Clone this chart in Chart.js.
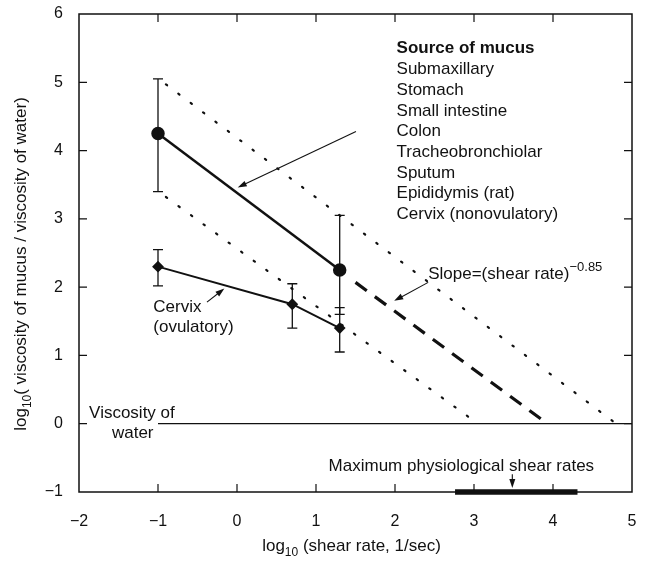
<!DOCTYPE html>
<html><head><meta charset="utf-8">
<script src="https://cdn.jsdelivr.net/npm/chart.js@4"></script>
<style>html,body{margin:0;padding:0;background:#fff}</style>
</head><body>
<canvas id="c" width="645" height="569"></canvas>
<script>
// ---- data ----
const xTicks = [-2, -1, 0, 1, 2, 3, 4, 5];
const yTicks = [-1, 0, 1, 2, 3, 4, 5, 6];

const mucusX = [-1, 1.3];
const mucusY = [4.25, 2.25];
const mucusLow = [3.4, 1.6];
const mucusHigh = [5.05, 3.05];

const cervixX = [-1, 0.7, 1.3];
const cervixY = [2.3, 1.75, 1.4];
const cervixLow = [2.02, 1.4, 1.05];
const cervixHigh = [2.55, 2.05, 1.7];

const upperBoundX = [-0.9, 4.8];
const upperBoundY = [4.97, 0];
const lowerBoundX = [-0.9, 3.05];
const lowerBoundY = [3.32, 0];
const extrapX = [1.5, 3.93];
const extrapY = [2.07, 0];
const waterX = [-1, 5];
const waterY = [0, 0];
const physioX = [2.76, 4.31];
const physioY = [-1, -1];

const sourceTitle = "Source of mucus";
const sources = ["Submaxillary", "Stomach", "Small intestine", "Colon",
  "Tracheobronchiolar", "Sputum", "Epididymis (rat)", "Cervix (nonovulatory)"];

const FONT = '"Liberation Sans", Arial, Helvetica, sans-serif';
const INK = '#111';

function pts(xs, ys) { return xs.map((x, i) => ({x: x, y: ys[i]})); }

function richWidth(ctx, parts) {
  let w = 0;
  parts.forEach(p => { ctx.font = (p.bold ? 'bold ' : '') + p.size + 'px ' + FONT; w += ctx.measureText(p.t).width; });
  return w;
}
function drawRich(ctx, parts, x, y, align) {
  const w = richWidth(ctx, parts);
  let cx = align === 'center' ? x - w / 2 : (align === 'right' ? x - w : x);
  ctx.textAlign = 'left';
  ctx.textBaseline = 'alphabetic';
  parts.forEach(p => {
    ctx.font = (p.bold ? 'bold ' : '') + p.size + 'px ' + FONT;
    ctx.fillText(p.t, cx, y + (p.dy || 0));
    cx += ctx.measureText(p.t).width;
  });
}
function arrow(ctx, x1, y1, x2, y2) {
  const head = 9, w = 3;
  const a = Math.atan2(y2 - y1, x2 - x1);
  ctx.beginPath(); ctx.moveTo(x1, y1);
  ctx.lineTo(x2 - 4 * Math.cos(a), y2 - 4 * Math.sin(a)); ctx.stroke();
  ctx.beginPath(); ctx.moveTo(x2, y2);
  ctx.lineTo(x2 - head * Math.cos(a) + w * Math.sin(a), y2 - head * Math.sin(a) - w * Math.cos(a));
  ctx.lineTo(x2 - head * Math.cos(a) - w * Math.sin(a), y2 - head * Math.sin(a) + w * Math.cos(a));
  ctx.closePath(); ctx.fill();
}

const decor = {
  id: 'decor',
  afterDatasetsDraw(chart) {
    const ctx = chart.ctx, xs = chart.scales.x, ys = chart.scales.y, ca = chart.chartArea;
    const X = v => xs.getPixelForValue(v), Y = v => ys.getPixelForValue(v);
    ctx.save();
    ctx.strokeStyle = INK; ctx.fillStyle = INK;

    // frame and inward ticks
    ctx.lineWidth = 1.5;
    ctx.strokeRect(ca.left, ca.top, ca.right - ca.left, ca.bottom - ca.top);
    ctx.lineWidth = 1.2;
    xTicks.slice(1, -1).forEach(t => {
      const p = X(t);
      ctx.beginPath(); ctx.moveTo(p, ca.bottom); ctx.lineTo(p, ca.bottom - 8);
      ctx.moveTo(p, ca.top); ctx.lineTo(p, ca.top + 8); ctx.stroke();
    });
    yTicks.slice(1, -1).forEach(t => {
      const p = Y(t);
      ctx.beginPath(); ctx.moveTo(ca.left, p); ctx.lineTo(ca.left + 8, p);
      ctx.moveTo(ca.right, p); ctx.lineTo(ca.right - 8, p); ctx.stroke();
    });

    // error bars
    ctx.lineWidth = 1.3;
    function err(xa, lo, hi) {
      xa.forEach((x, i) => {
        const px = X(x), a = Y(lo[i]), b = Y(hi[i]);
        ctx.beginPath(); ctx.moveTo(px, a); ctx.lineTo(px, b);
        ctx.moveTo(px - 5, a); ctx.lineTo(px + 5, a);
        ctx.moveTo(px - 5, b); ctx.lineTo(px + 5, b); ctx.stroke();
      });
    }
    err(mucusX, mucusLow, mucusHigh);
    err(cervixX, cervixLow, cervixHigh);

    // arrows
    ctx.lineWidth = 1.1;
    arrow(ctx, X(1.506), Y(4.28), X(0.009), Y(3.46));
    arrow(ctx, X(2.42), Y(2.07), X(1.99), Y(1.80));
    arrow(ctx, X(-0.38), Y(1.78), X(-0.16), Y(1.98));
    arrow(ctx, X(3.485), Y(-0.74), X(3.485), Y(-0.94));

    // annotation text
    ctx.fillStyle = '#111';
    const lx = X(2.02);
    drawRich(ctx, [{t: sourceTitle, size: 17, bold: true}], lx, Y(5.51) + 6);
    sources.forEach((s, i) => {
      drawRich(ctx, [{t: s, size: 17}], lx, Y(5.51) + 6 + 20.7 * (i + 1));
    });
    drawRich(ctx, [{t: 'Slope=(shear rate)', size: 17}, {t: '\u22120.85', size: 13, dy: -8}], X(2.42), Y(2.2) + 6);
    drawRich(ctx, [{t: 'Cervix', size: 17}], X(-1.06), Y(1.73) + 6);
    drawRich(ctx, [{t: '(ovulatory)', size: 17}], X(-1.06), Y(1.73) + 26);
    drawRich(ctx, [{t: 'Viscosity of', size: 17}], X(-1.33), Y(0.165) + 6, 'center');
    drawRich(ctx, [{t: 'water', size: 17}], X(-1.32), Y(-0.12) + 6, 'center');
    drawRich(ctx, [{t: 'Maximum physiological shear rates', size: 17}], X(2.84), Y(-0.6) + 6, 'center');

    // axis titles
    drawRich(ctx, [{t: 'log', size: 17}, {t: '10', size: 12, dy: 5}, {t: ' (shear rate, 1/sec)', size: 17}],
      (ca.left + ca.right) / 2 - 4, 551, 'center');
    ctx.translate(26, (ca.top + ca.bottom) / 2 + 11);
    ctx.rotate(-Math.PI / 2);
    drawRich(ctx, [{t: 'log', size: 17}, {t: '10', size: 12, dy: 5}, {t: '( viscosity of mucus / viscosity of water)', size: 17}], 0, 0, 'center');
    ctx.restore();
  }
};

const lineDs = (data, extra) => Object.assign({
  data: data, showLine: true, borderColor: INK, backgroundColor: INK,
  pointRadius: 0, borderWidth: 1.2, fill: false
}, extra);

function noPad(s) { s.paddingTop = 0; s.paddingBottom = 0; s.paddingLeft = 0; s.paddingRight = 0; }

new Chart(document.getElementById('c'), {
  type: 'scatter',
  data: {
    datasets: [
      lineDs(pts(waterX, waterY), {borderWidth: 1.2}),
      lineDs(pts(upperBoundX, upperBoundY), {borderWidth: 2.2, borderDash: [1.5, 14], borderCapStyle: 'round'}),
      lineDs(pts(lowerBoundX, lowerBoundY), {borderWidth: 2.2, borderDash: [1.5, 14], borderCapStyle: 'round'}),
      lineDs(pts(extrapX, extrapY), {borderWidth: 3.2, borderDash: [14, 10]}),
      lineDs(pts(physioX, physioY), {borderWidth: 5.5, clip: false}),
      lineDs(pts(mucusX, mucusY), {borderWidth: 2.5, pointRadius: 5.5, pointStyle: 'circle'}),
      lineDs(pts(cervixX, cervixY), {borderWidth: 2, pointRadius: 4.5, pointStyle: 'rectRot'})
    ]
  },
  options: {
    responsive: false, animation: false, devicePixelRatio: 1,
    layout: {padding: {top: 14, right: 13, left: 0, bottom: 0}},
    plugins: {legend: {display: false}, tooltip: {enabled: false}},
    scales: {
      x: {
        type: 'linear', min: -2, max: 5,
        afterBuildTicks: s => { s.ticks = xTicks.map(v => ({value: v})); },
        afterFit: s => { s.height = 77; noPad(s); },
        grid: {display: false, drawTicks: false}, border: {display: false},
        ticks: {padding: 20, color: INK, font: {family: FONT, size: 16},
          callback: v => String(v).replace('-', '\u2212')}
      },
      y: {
        type: 'linear', min: -1, max: 6,
        afterBuildTicks: s => { s.ticks = yTicks.map(v => ({value: v})); },
        afterFit: s => { s.width = 79; noPad(s); },
        grid: {display: false, drawTicks: false}, border: {display: false},
        ticks: {padding: 16, color: INK, font: {family: FONT, size: 16},
          callback: v => String(v).replace('-', '\u2212')}
      }
    }
  },
  plugins: [decor]
});
</script>
</body></html>
